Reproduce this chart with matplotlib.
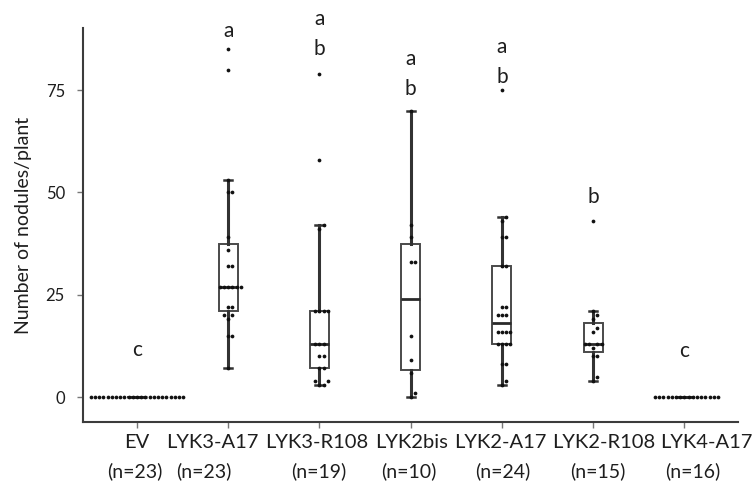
import numpy as np
import matplotlib
matplotlib.use("Agg")
import matplotlib.pyplot as plt
from matplotlib.transforms import ScaledTranslation, blended_transform_factory

# ---------------- data ----------------
categories = ["EV", "LYK3-A17", "LYK3-R108", "LYK2bis", "LYK2-A17", "LYK2-R108", "LYK4-A17"]
n_labels = ["(n=23)", "(n=23)", "(n=19)", "(n=10)", "(n=24)", "(n=15)", "(n=16)"]

ev = [0, 0, 0, 0, 0, 0, 0, 0, 0, 0, 0, 0, 0, 0, 0, 0, 0, 0, 0, 0, 0, 0, 0]
lyk3_a17 = [7, 15, 15, 19, 20, 20, 22, 22, 27, 27, 27, 27, 27, 27, 32, 32, 36, 39,
            50, 50, 53, 80, 85]
lyk3_r108 = [3, 3, 4, 4, 7, 7, 10, 10, 13, 13, 13, 21, 21, 21, 21, 41, 42, 58, 79]
lyk2bis = [0, 1, 6, 9, 15, 33, 33, 39, 42, 70]
lyk2_a17 = [3, 4, 8, 8, 13, 13, 13, 13, 16, 16, 16, 16, 20, 20, 20, 22, 22, 32, 32,
            39, 39, 43, 44, 75]
lyk2_r108 = [4, 5, 10, 10, 12, 13, 13, 13, 13, 16, 17, 19, 20, 21, 43]
lyk4_a17 = [0, 0, 0, 0, 0, 0, 0, 0, 0, 0, 0, 0, 0, 0, 0, 0]

groups = [ev, lyk3_a17, lyk3_r108, lyk2bis, lyk2_a17, lyk2_r108, lyk4_a17]

letters = ["c", "a", "ab", "ab", "ab", "b", "c"]
letter_base = [10.0, 88.0, 83.6, 73.8, 76.8, 47.4, 9.8]   # baseline of lowest letter

y_ticks = [0, 25, 50, 75]

# ---------------- style ----------------
FONT = ["Lato", "DejaVu Sans"]
plt.rcParams["font.family"] = FONT
line_col = "#3c3c3c"
text_col = "#1e1e1e"
name_dx_px = [0, -16, -3, 1, -2, 11, 22]
n_dx_px = [-2, -24, -1, -2, 1, 5, 8]

fig = plt.figure(figsize=(7.54, 4.88), dpi=100)
ax = fig.add_axes([0.110, 0.135, 0.869, 0.808])
positions = np.arange(len(categories))
ax.set_xlim(-0.592, 6.59)
ax.set_ylim(-6.1, 90.2)

# boxes
bp = ax.boxplot(groups, positions=positions, widths=0.21, showfliers=False,
                patch_artist=True, whis=1.5, capwidths=0.09,
                boxprops=dict(facecolor="white", edgecolor="#4a4a4a", linewidth=1.4),
                medianprops=dict(color="#2a2a2a", linewidth=2.0),
                whiskerprops=dict(color="#333333", linewidth=2.2),
                capprops=dict(color="#333333", linewidth=1.8),
                zorder=2)

# swarm points
def swarm_offsets(vals, x0, spacing_px=4.2, diam_px=4.2):
    vals = np.asarray(vals, dtype=float)
    disp = ax.transData.transform(np.column_stack([np.full(len(vals), x0), vals]))
    ypx = disp[:, 1]
    order = np.argsort(vals, kind="stable")
    placed = []
    offs = np.zeros(len(vals))
    cands = [0] + [s * j for j in range(1, 60) for s in (1, -1)]
    for i in order:
        y = ypx[i]
        for c in cands:
            x = c * spacing_px
            if all((x - px) ** 2 + (y - py) ** 2 >= diam_px ** 2 - 1e-6 for px, py in placed):
                break
        placed.append((x, y))
        offs[i] = x
    # convert pixel offsets to data units
    unit_px = ax.transData.transform([(1, 0)])[0, 0] - ax.transData.transform([(0, 0)])[0, 0]
    return offs / unit_px

for pos, vals in zip(positions, groups):
    dx = swarm_offsets(vals, pos)
    ax.plot(pos + dx, vals, "o", ms=2.7, color="#111111", mec="none", zorder=4,
            clip_on=False)

# significance letters
for pos, grp, base in zip(positions, letters, letter_base):
    for k, ch in enumerate(reversed(grp)):
        ax.annotate(ch, xy=(pos, base), xytext=(0, 21.6 * k), textcoords="offset points",
                    ha="center", va="baseline", fontsize=15, color=text_col,
                    annotation_clip=False)

# axes styling
for s in ["top", "right"]:
    ax.spines[s].set_visible(False)
for s in ["left", "bottom"]:
    ax.spines[s].set_color(line_col)
    ax.spines[s].set_linewidth(1.5)

ax.set_yticks(y_ticks)
ax.set_yticklabels([str(v) for v in y_ticks])
ax.tick_params(axis="y", length=4, width=1.0, color="#777777", pad=9,
               labelsize=12, labelcolor=text_col)
ax.set_xticks(positions)
ax.set_xticklabels([])
ax.tick_params(axis="x", length=4, width=1.0, color="#777777")

ax.set_ylabel("Number of nodules/plant", fontsize=14, color=text_col)
ax.yaxis.set_label_coords(-0.077, 0.5)

# category labels (two lines)
base_tr = blended_transform_factory(ax.transData, ax.transAxes)
for pos, name, nl, dxn, dxc in zip(positions, categories, n_labels, name_dx_px, n_dx_px):
    ax.text(pos, 0, name, ha="center", va="baseline", fontsize=14.5, color=text_col,
            transform=base_tr + ScaledTranslation(dxn / 100, -26 / 100, fig.dpi_scale_trans),
            clip_on=False)
    ax.text(pos, 0, nl, ha="center", va="baseline", fontsize=14, color=text_col,
            transform=base_tr + ScaledTranslation(dxc / 100, -55 / 100, fig.dpi_scale_trans),
            clip_on=False)

fig.savefig("out.png", dpi=100)
